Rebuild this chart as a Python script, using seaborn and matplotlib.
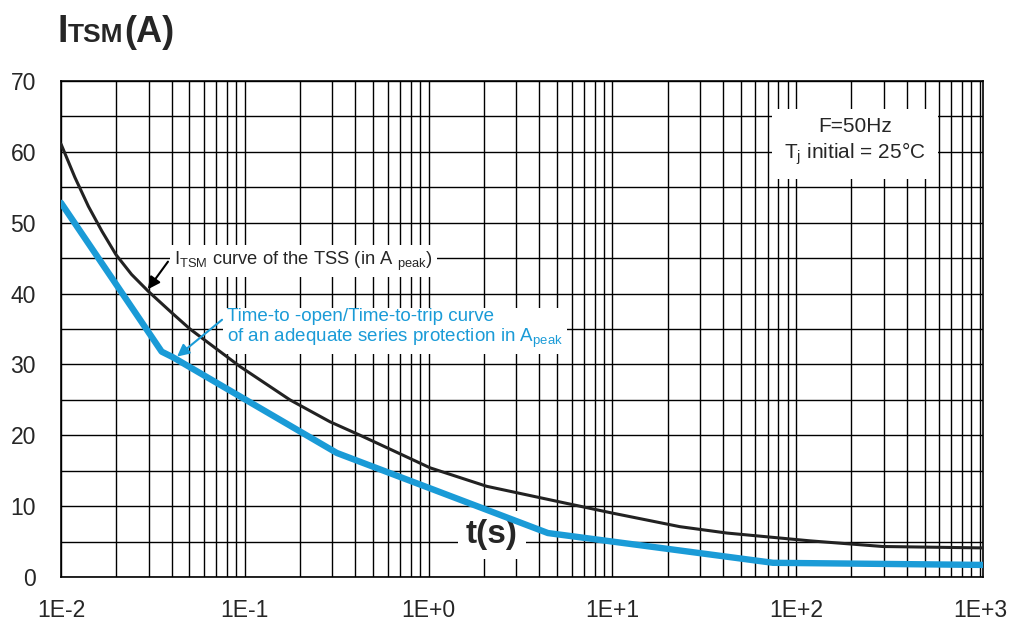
import matplotlib
matplotlib.use("Agg")
import matplotlib.pyplot as plt
from matplotlib.ticker import FixedLocator, LogLocator, NullFormatter
import seaborn as sns
import pandas as pd

# ITSM curve of the TSS (black)
t_itsm = [0.01, 0.0119, 0.0141, 0.0167, 0.0199, 0.0242, 0.0299, 0.040, 0.0503,
          0.0942, 0.176, 0.291, 0.424, 0.544, 1.02, 2.07, 5.38, 10.07, 23.3,
          42.0, 118.8, 296, 1038]
i_itsm = [61.1, 56.4, 52.3, 48.8, 45.5, 42.7, 40.3, 37.3, 35,
          29.7, 25, 21.9, 20, 18.7, 15.4, 12.8, 10.5, 9.0, 7.1,
          6.2, 5.1, 4.3, 4.1]

# time-to-open curve of the series protection (blue)
t_fuse = [0.01, 0.0353, 0.0407, 0.317, 4.46, 74.8, 1038]
i_fuse = [52.8, 31.8, 31.0, 17.5, 6.2, 2.0, 1.7]

x_ticks = [1e-2, 1e-1, 1e0, 1e1, 1e2, 1e3]
x_labels = ['1E-2', '1E-1', '1E+0', '1E+1', '1E+2', '1E+3']
y_ticks = [0, 10, 20, 30, 40, 50, 60, 70]

BLUE = '#1a9bd7'

sns.set_style('white')
plt.rcParams['font.family'] = ['Liberation Sans', 'DejaVu Sans']
plt.rcParams['mathtext.fontset'] = 'custom'
plt.rcParams['mathtext.rm'] = 'Liberation Sans'
plt.rcParams['mathtext.it'] = 'Liberation Sans'

df_itsm = pd.DataFrame({'t': t_itsm, 'i': i_itsm})
df_fuse = pd.DataFrame({'t': t_fuse, 'i': i_fuse})

fig = plt.figure(figsize=(10.15, 6.21), dpi=100)
ax = fig.add_axes([0.0601, 0.0709, 0.9084, 0.7987])

sns.lineplot(data=df_itsm, x='t', y='i', ax=ax, color='#222222', lw=2.2,
             sort=False, estimator=None, zorder=5)
sns.lineplot(data=df_fuse, x='t', y='i', ax=ax, color=BLUE, lw=4.6,
             sort=False, estimator=None, zorder=6)

ax.set_xscale('log')
ax.set_xlim(0.01, 1040)
ax.set_ylim(0, 70)
ax.xaxis.set_major_locator(FixedLocator(x_ticks))
ax.set_xticklabels(x_labels)
ax.xaxis.set_minor_locator(LogLocator(base=10, subs=range(2, 10), numticks=20))
ax.xaxis.set_minor_formatter(NullFormatter())
ax.set_yticks(y_ticks)
ax.yaxis.set_minor_locator(FixedLocator([5, 15, 25, 35, 45, 55, 65]))
ax.grid(True, which='both', color='black', lw=1.0)
ax.set_axisbelow(True)
ax.tick_params(axis='both', which='both', length=0, labelsize=16.5)
ax.tick_params(axis='x', pad=16)
ax.tick_params(axis='y', pad=18)
for s in ax.spines.values():
    s.set_color('black')
    s.set_linewidth(1.2)
ax.set_xlabel('')
ax.set_ylabel('')

# axis titles
fig.text(0.057, 0.932, 'I', fontsize=27, fontweight='bold', va='baseline', ha='left')
fig.text(0.0665, 0.932, 'TSM', fontsize=19, fontweight='bold', va='baseline', ha='left')
fig.text(0.1225, 0.932, '(A)', fontsize=26, fontweight='bold', va='baseline', ha='left')

ax.text(0.4675, 0.085, 't(s)', transform=ax.transAxes, fontsize=24, fontweight='bold',
        ha='center', va='center', zorder=3,
        bbox=dict(facecolor='white', edgecolor='none', pad=6))

ax.text(0.861, 0.877, 'F=50Hz\nT$_{\\rm j}$ initial = 25°C', transform=ax.transAxes,
        fontsize=15, ha='center', va='center', linespacing=1.2, zorder=3,
        bbox=dict(facecolor='white', edgecolor='none', pad=9))

# curve labels
ax.text(0.0412, 44.6, 'I$_{\\rm TSM}$ curve of the TSS (in A $_{\\rm peak}$)',
        fontsize=13.2, ha='left', va='center', zorder=3,
        bbox=dict(facecolor='white', edgecolor='none', pad=3))
ax.text(0.080, 35.0,
        'Time-to -open/Time-to-trip curve\nof an adequate series protection in A$_{\\rm peak}$',
        fontsize=13.5, ha='left', va='center', color=BLUE, zorder=3, linespacing=1.1,
        bbox=dict(facecolor='white', edgecolor='none', pad=3))

# arrows
ax.annotate('', xy=(0.0297, 40.6), xytext=(0.0382, 44.5), zorder=7,
            arrowprops=dict(arrowstyle='-|>', color='black', lw=1.5,
                            mutation_scale=18, shrinkA=0, shrinkB=0))
ax.annotate('', xy=(0.0428, 31.1), xytext=(0.0752, 36.3), zorder=7,
            arrowprops=dict(arrowstyle='-|>', color=BLUE, lw=1.5,
                            mutation_scale=18, shrinkA=0, shrinkB=0))

fig.savefig('out.png', dpi=100, facecolor='white')
